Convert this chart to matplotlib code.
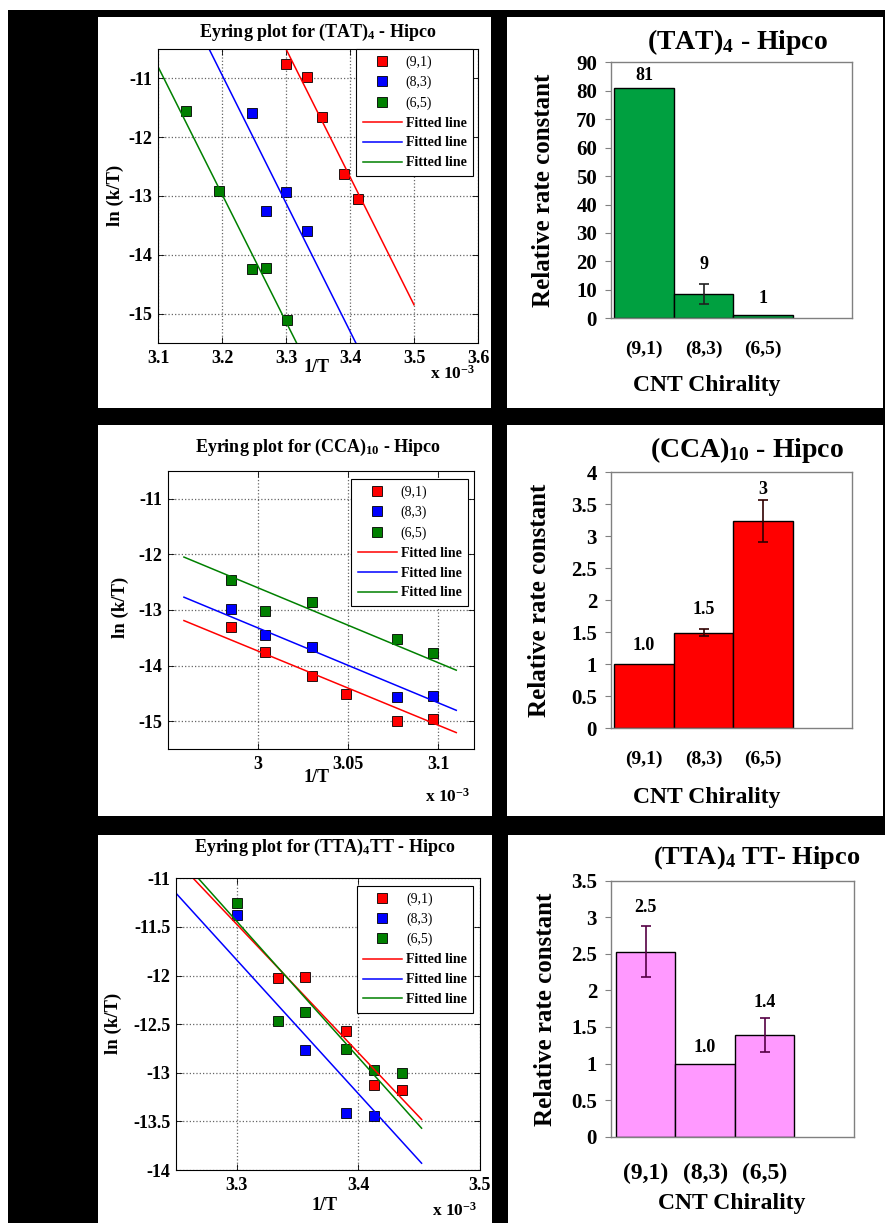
import numpy as np
import matplotlib
matplotlib.use("Agg")
import matplotlib.pyplot as plt
from matplotlib.patches import Rectangle

plt.rcParams['font.family'] = ['Liberation Serif', 'DejaVu Serif']
plt.rcParams['font.weight'] = 'bold'
plt.rcParams['mathtext.fontset'] = 'custom'
plt.rcParams['mathtext.rm'] = 'Liberation Serif:bold'
plt.rcParams['mathtext.it'] = 'Liberation Serif:bold'
plt.rcParams['mathtext.bf'] = 'Liberation Serif:bold'
plt.rcParams['axes.unicode_minus'] = False

# ---- Eyring data: x = 1/T (x 10^-3), y = ln(k/T) ----
# (TAT)4
tat_91_x = [3.300, 3.333, 3.356, 3.390, 3.412]
tat_91_y = [-10.75, -10.97, -11.65, -12.63, -13.05]
tat_83_x = [3.247, 3.269, 3.300, 3.333]
tat_83_y = [-11.59, -13.26, -12.94, -13.60]
tat_65_x = [3.144, 3.196, 3.247, 3.269, 3.301]
tat_65_y = [-11.55, -12.92, -14.24, -14.22, -15.11]
tat_fit_x = [3.1, 3.5]
tat_fit_91 = [-6.15, -14.85]
tat_fit_83 = [-8.76, -17.48]
tat_fit_65 = [-10.80, -19.48]

# (CCA)10
cca_91_x = [2.985, 3.004, 3.030, 3.049, 3.077, 3.097]
cca_91_y = [-13.31, -13.76, -14.18, -14.51, -14.99, -14.95]
cca_83_x = [2.985, 3.004, 3.030, 3.077, 3.097]
cca_83_y = [-12.99, -13.44, -13.66, -14.56, -14.54]
cca_65_x = [2.985, 3.004, 3.030, 3.077, 3.097]
cca_65_y = [-12.46, -13.01, -12.86, -13.52, -13.78]
cca_fit_x = [2.959, 3.110]
cca_fit_91 = [-13.19, -15.20]
cca_fit_83 = [-12.77, -14.80]
cca_fit_65 = [-12.05, -14.08]

# (TTA)4TT
tta_91_x = [3.334, 3.356, 3.390, 3.413, 3.436]
tta_91_y = [-12.03, -12.02, -12.57, -13.13, -13.18]
tta_83_x = [3.300, 3.356, 3.390, 3.413]
tta_83_y = [-11.38, -12.77, -13.41, -13.44]
tta_65_x = [3.300, 3.334, 3.356, 3.390, 3.413, 3.436]
tta_65_y = [-11.25, -12.47, -12.38, -12.76, -12.97, -13.00]
tta_fit_x = [3.25, 3.452]
tta_fit_91 = [-10.81, -13.48]
tta_fit_83 = [-11.15, -13.93]
tta_fit_65 = [-10.74, -13.57]

# ---- relative rate constants ----
chirality = ['(9,1)', '(8,3)', '(6,5)']
tat_rel = [81.1, 8.6, 1.1]
tat_err = [0, 3.5, 0]
tat_lab = ['81', '9', '1']
cca_rel = [1.0, 1.495, 3.24]
cca_err = [0, 0.06, 0.33]
cca_lab = ['1.0', '1.5', '3']
tta_rel = [2.53, 1.0, 1.39]
tta_err = [0.35, 0, 0.235]
tta_lab = ['2.5', '1.0', '1.4']

W, H = 885, 1223
fig = plt.figure(figsize=(W / 100, H / 100), dpi=100)


def fpos(x, y):
    return x / W, 1 - y / H


def box(l, t, r, b):
    return [l / W, 1 - b / H, (r - l) / W, (b - t) / H]


# black backdrop and white panels
fig.patches.append(Rectangle((8 / W, 0), 1, 1 - 10 / H, transform=fig.transFigure,
                             facecolor='black', edgecolor='none', zorder=-10))
for l, t, r, b in [(98, 17, 491, 408), (507, 17, 883, 408),
                   (98, 425, 492, 816), (507, 425, 883, 816),
                   (98, 835, 492, 1223), (508, 835, 885, 1223)]:
    fig.patches.append(Rectangle((l / W, 1 - b / H), (r - l) / W, (b - t) / H,
                                 transform=fig.transFigure, facecolor='white',
                                 edgecolor='none', zorder=-9))

red, blue, green = '#FF0000', '#0000FF', '#008000'


def eyring(bx, pts, fit_x, fits, xlim, ylim, xticks, yticks, title, title_xy,
           xl_xy, exp_xy, yl_xy, leg_anchor):
    ax = fig.add_axes(box(*bx))
    cols = [red, blue, green]
    for (x, y), c in zip(pts, cols):
        ax.plot(x, y, 's', color=c, markersize=7.8, markeredgecolor='black',
                markeredgewidth=0.6, label=' ')
    for f, c in zip(fits, cols):
        ax.plot(fit_x, f, '-', color=c, lw=1.1, label='Fitted line')
    ax.set_xlim(*xlim)
    ax.set_ylim(*ylim)
    ax.set_xticks(xticks)
    ax.set_xticklabels(['%g' % t for t in xticks])
    ax.set_yticks(yticks)
    ax.set_yticklabels(['%g' % t for t in yticks])
    ax.tick_params(direction='in', length=4, width=0.6, labelsize=13,
                   top=True, right=True, pad=5)
    ax.tick_params(axis='y', pad=4)
    ax.grid(True, linestyle=':', color='#666666', lw=0.9)
    for s in ax.spines.values():
        s.set_color('black')
        s.set_linewidth(0.8)
    h, _ = ax.get_legend_handles_labels()
    leg = ax.legend(h, chirality + ['Fitted line'] * 3, loc='upper right',
                    bbox_to_anchor=leg_anchor, borderaxespad=0, fontsize=10,
                    fancybox=False, framealpha=1, edgecolor='black',
                    handlelength=2.8, handletextpad=0.3, labelspacing=0.5,
                    borderpad=0.45)
    leg.get_frame().set_linewidth(0.8)
    for t in leg.get_texts()[:3]:
        t.set_fontweight('normal')
    fig.text(*fpos(*title_xy), title, ha='center', va='center', fontsize=13)
    fig.text(*fpos(*xl_xy), '1/T', ha='center', va='center', fontsize=13)
    fig.text(*fpos(*exp_xy), 'x 10$^{-3}$', ha='center', va='center', fontsize=12.5)
    fig.text(*fpos(*yl_xy), 'ln (k/T)', ha='center', va='center', fontsize=13.5,
             rotation=90)
    return ax


def bars(bx, vals, errs, labs, offs, color, ecol, ylim, yticks, xlim, title,
         title_xy, title_fs, xl_xy, yl_xy, xtick_fs, xtick_pad):
    ax = fig.add_axes(box(*bx))
    x = np.arange(len(vals))
    ax.bar(x, vals, width=1.0, color=color, edgecolor='black', lw=1.0, zorder=2)
    ex = [i for i in x if errs[i] > 0]
    ax.errorbar(ex, [vals[i] for i in ex], yerr=[errs[i] for i in ex], fmt='none',
                ecolor=ecol, elinewidth=1.2, capsize=3.5, capthick=1.2, zorder=3)
    for i in x:
        ax.annotate(labs[i], (i, vals[i] + errs[i]), xytext=(0, offs[i] * 0.72),
                    textcoords='offset points', ha='center', va='center',
                    fontsize=13)
    ax.set_xlim(*xlim)
    ax.set_ylim(*ylim)
    ax.set_yticks(yticks)
    ax.set_yticklabels(['%g' % t for t in yticks])
    ax.set_xticks(x)
    ax.set_xticklabels(chirality)
    ax.tick_params(axis='y', direction='out', length=4, color='#808080',
                   labelsize=15, pad=6)
    ax.tick_params(axis='x', length=0, labelsize=xtick_fs, pad=xtick_pad)
    for s in ax.spines.values():
        s.set_color('#808080')
        s.set_linewidth(1.0)
    fig.text(*fpos(*title_xy), title, ha='center', va='center', fontsize=title_fs)
    fig.text(*fpos(*xl_xy), 'CNT Chirality', ha='center', va='center', fontsize=17)
    fig.text(*fpos(*yl_xy), 'Relative rate constant', ha='center', va='center',
             fontsize=18, rotation=90)
    return ax


eyring((158, 49, 478, 343),
       [(tat_91_x, tat_91_y), (tat_83_x, tat_83_y), (tat_65_x, tat_65_y)],
       tat_fit_x, [tat_fit_91, tat_fit_83, tat_fit_65],
       (3.1, 3.6), (-15.5, -10.5), [3.1, 3.2, 3.3, 3.4, 3.5, 3.6],
       [-15, -14, -13, -12, -11],
       'Eyring plot for (TAT)$_4$ - Hipco', (318, 32), (317, 368), (453, 374),
       (115, 195), (0.984, 1.0))

eyring((167.7, 470.7, 474.3, 749.3),
       [(cca_91_x, cca_91_y), (cca_83_x, cca_83_y), (cca_65_x, cca_65_y)],
       cca_fit_x, [cca_fit_91, cca_fit_83, cca_fit_65],
       (2.95, 3.12), (-15.5, -10.5), [3.0, 3.05, 3.1],
       [-15, -14, -13, -12, -11],
       'Eyring plot for (CCA)$_{10}$ - Hipco', (318, 447), (317, 778), (448, 797),
       (120, 607), (0.979, 0.970))

eyring((175.7, 878.3, 480, 1170),
       [(tta_91_x, tta_91_y), (tta_83_x, tta_83_y), (tta_65_x, tta_65_y)],
       tta_fit_x, [tta_fit_91, tta_fit_83, tta_fit_65],
       (3.25, 3.5), (-14, -11), [3.3, 3.4, 3.5],
       [-14, -13.5, -13, -12.5, -12, -11.5, -11],
       'Eyring plot for (TTA)$_4$TT - Hipco', (325, 847), (325, 1206), (455, 1211),
       (113, 1023), (0.977, 0.974))

bars((611, 62.3, 851.7, 318.3), tat_rel, tat_err, tat_lab, [12, 19, 17],
     '#00A040', '#202020', (0, 90), list(range(0, 91, 10)), (-0.556, 3.49),
     '(TAT)$_4$ - Hipco', (738, 42), 20, (707, 385), (544, 190), 14, 16)

bars((611, 472.3, 851.7, 728.3), cca_rel, cca_err, cca_lab, [19, 19, 10],
     '#FF0000', '#300000', (0, 4), [0, 0.5, 1, 1.5, 2, 2.5, 3, 3.5, 4],
     (-0.556, 3.49), '(CCA)$_{10}$ - Hipco', (747, 450), 20, (707, 797),
     (540, 600), 14, 16)

bars((611, 880.7, 854, 1136.7), tta_rel, tta_err, tta_lab, [19, 16, 15],
     '#FF99FF', '#550044', (0, 3.5), [0, 0.5, 1, 1.5, 2, 2.5, 3, 3.5],
     (-0.584, 3.505), '(TTA)$_4$ TT- Hipco', (757, 858), 19, (732, 1203),
     (545, 1009), 17, 19)

fig.savefig('out.png', dpi=100)
